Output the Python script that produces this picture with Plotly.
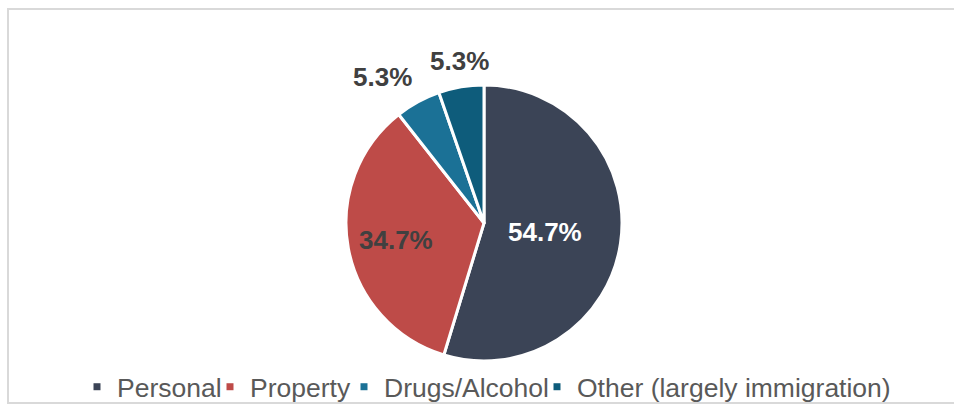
import math
import plotly.graph_objects as go

categories = ["Personal", "Property", "Drugs/Alcohol", "Other (largely immigration)"]
shares = [54.7, 34.7, 5.3, 5.3]
colors = ["#3B4456", "#BE4B48", "#1B7196", "#0E5C7B"]
label_colors = ["#FFFFFF", "#404040", "#404040", "#404040"]
label_inside = [True, True, False, False]
label_radius = [0.45, 0.65, 1.0, 1.0]          # fraction of pie radius (inside labels)
legend_text_x = [114, 247, 381, 574]            # legend text start (px)

W, H = 954, 404
cx, cy, r = 484, 223, 138


def px(x):
    return x / W


def py(y):
    return 1 - y / H


fig = go.Figure()
fig.add_trace(go.Pie(
    labels=categories,
    values=shares,
    sort=False,
    direction="clockwise",
    rotation=0,
    marker=dict(colors=colors, line=dict(color="white", width=3)),
    textinfo="none",
    showlegend=False,
    domain=dict(x=[px(cx - r), px(cx + r)], y=[py(cy + r), py(cy - r)]),
    hoverinfo="label+value",
))

# legend entries (one legend per entry so spacing follows the reference)
legend_layout = {}
for i, (cat, col) in enumerate(zip(categories, colors)):
    name = "legend" if i == 0 else f"legend{i + 1}"
    fig.add_trace(go.Scatter(
        x=[None], y=[None], mode="markers", name=cat, legend=name,
        marker=dict(symbol="square", size=7, color=col, line=dict(width=0)),
        hoverinfo="skip",
    ))
    legend_layout[name] = dict(
        x=px(legend_text_x[i] + 3 - 40), xanchor="left",
        y=py(387), yanchor="middle", orientation="h",
        bgcolor="rgba(0,0,0,0)", borderwidth=0,
        font=dict(family="Arial, Liberation Sans", size=26.5, color="#595959"),
        itemclick=False, itemdoubleclick=False,
    )

# slice labels
annotations = []
total = sum(shares)
cum = 0.0
for i, v in enumerate(shares):
    mid = (cum + v / 2) / total * 2 * math.pi
    cum += v
    s, c = math.sin(mid), math.cos(mid)
    txt = f"<b>{v:.1f}%</b>"
    if label_inside[i]:
        d = r * label_radius[i]
        x, y = cx + s * d, cy - c * d
        xa, ya = "center", "middle"
    else:
        d = r + 9
        x, y = cx + s * d, cy - c * d
        xa = "right" if s < -0.3 else ("left" if s > 0.3 else "center")
        ya = "bottom" if c > 0.3 else ("top" if c < -0.3 else "middle")
    annotations.append(dict(
        x=px(x), y=py(y), xref="paper", yref="paper", text=txt, showarrow=False,
        xanchor=xa, yanchor=ya,
        font=dict(family="Arial, Liberation Sans", size=26, color=label_colors[i]),
    ))

# open frame (left, top and bottom edges; right edge lies outside the view)
frame_path = (f"M 1.05,{py(9):.5f} L {px(8):.5f},{py(9):.5f} "
              f"L {px(8):.5f},{py(403):.5f} L 1.05,{py(403):.5f}")

fig.update_layout(
    width=W, height=H,
    margin=dict(l=0, r=0, t=0, b=0, autoexpand=False),
    paper_bgcolor="white", plot_bgcolor="white",
    showlegend=True,
    xaxis=dict(visible=False), yaxis=dict(visible=False),
    annotations=annotations,
    shapes=[dict(type="path", xref="paper", yref="paper", path=frame_path,
                 line=dict(color="#D9D9D9", width=2), fillcolor="rgba(0,0,0,0)", layer="below")],
    **legend_layout,
)

fig.write_html(
    "out.html",
    config={"displayModeBar": False},
    post_script=("document.body.style.margin='0';document.body.style.overflow='hidden';"
                 "document.documentElement.style.overflow='hidden';"),
)
